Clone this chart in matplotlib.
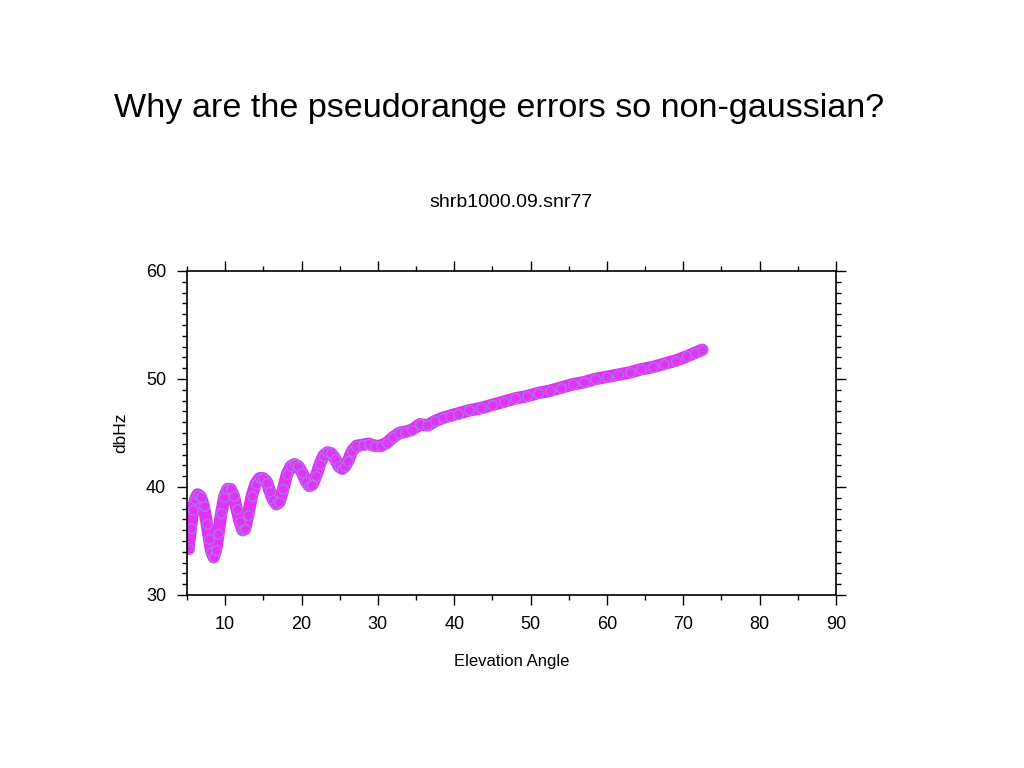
import matplotlib
matplotlib.use("Agg")
import matplotlib.pyplot as plt
from matplotlib.ticker import MultipleLocator

plt.rcParams['font.family'] = ['Liberation Sans', 'DejaVu Sans']

# elevation angle (deg) and SNR (dbHz)
elevation = [5.2, 5.5, 5.8, 6.1, 6.4, 6.8, 7.2, 7.6, 7.9, 8.2, 8.5, 8.8, 9.1,
             9.5, 9.9, 10.3, 10.7, 11.1, 11.5, 11.9, 12.3, 12.6, 13.0, 13.5,
             14.0, 14.5, 15.0, 15.5, 15.9, 16.3, 16.7, 17.1, 17.6, 18.1, 18.6,
             19.1, 19.6, 20.1, 20.6, 21.0, 21.4, 21.9, 22.4, 22.9, 23.4, 23.9,
             24.4, 24.9, 25.3, 25.7, 26.1, 26.6, 27.2, 28.0, 28.8, 29.6, 30.4,
             31.2, 32.0, 32.8, 33.6, 34.5, 35.5, 36.5, 37.5, 38.5, 39.5,
             40.5, 42.0, 43.5, 45.0, 46.5, 48.0, 49.5, 51.0, 52.5, 54.0, 55.5,
             57.0, 58.5, 60.0, 61.5, 63.0, 64.5, 66.0, 67.5, 69.0, 70.5, 71.5, 72.5]
snr = [34.3, 36.2, 37.9, 38.9, 39.3, 39.1, 38.2, 36.6, 35.2, 34.0, 33.5, 34.2, 35.6,
       37.6, 39.1, 39.8, 39.8, 39.2, 38.0, 36.8, 36.0, 36.1, 37.4, 39.2,
       40.3, 40.8, 40.8, 40.4, 39.5, 38.8, 38.4, 38.6, 39.8, 41.2, 41.9,
       42.1, 41.9, 41.3, 40.5, 40.1, 40.2, 41.0, 42.1, 42.9, 43.2, 43.1,
       42.6, 41.9, 41.7, 41.9, 42.4, 43.3, 43.8, 43.9, 44.0, 43.8, 43.8,
       44.1, 44.6, 45.0, 45.1, 45.3, 45.8, 45.7, 46.1, 46.4, 46.6,
       46.8, 47.1, 47.3, 47.6, 47.9, 48.2, 48.4, 48.7, 48.9, 49.2, 49.5,
       49.7, 50.0, 50.2, 50.4, 50.6, 50.9, 51.1, 51.4, 51.7, 52.1, 52.4, 52.7]

fig = plt.figure(figsize=(10.24, 7.68), dpi=100)
fig.text(0.487, 0.859, 'Why are the pseudorange errors so non-gaussian?',
         ha='center', va='center', fontsize=24.6)

ax = fig.add_axes([0.1826, 0.2253, 0.6338, 0.4219])
ax.plot(elevation, snr, color='#e232f2', linewidth=9, solid_capstyle='round',
        solid_joinstyle='round', marker='o', markersize=7,
        markerfacecolor='#e232f2', markeredgecolor='#a47cf0', markeredgewidth=0.8)

ax.set_xlim(5, 90)
ax.set_ylim(30, 60)
ax.xaxis.set_major_locator(MultipleLocator(10))
ax.xaxis.set_minor_locator(MultipleLocator(5))
ax.yaxis.set_major_locator(MultipleLocator(10))
ax.yaxis.set_minor_locator(MultipleLocator(1))
ax.tick_params(which='both', direction='out', top=True, right=True,
               labeltop=False, labelright=False, width=1, labelsize=13)
ax.tick_params(which='major', length=7)
ax.tick_params(which='minor', length=3.5)
ax.tick_params(axis='x', which='major', pad=8)
ax.tick_params(axis='y', which='major', pad=8)
for s in ax.spines.values():
    s.set_linewidth(1.2)

ax.set_title('shrb1000.09.snr77', fontsize=14, pad=46)
ax.set_xlabel('Elevation Angle', fontsize=12, labelpad=15)
ax.set_ylabel('dbHz', fontsize=12.5, labelpad=13)

fig.savefig('out.png', dpi=100)
